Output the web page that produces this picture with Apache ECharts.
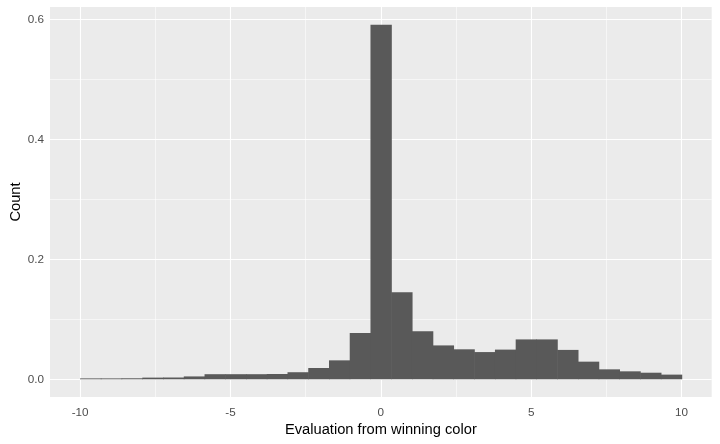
<!DOCTYPE html>
<html>
<head>
<meta charset="utf-8">
<script src="https://cdn.jsdelivr.net/npm/echarts@6/dist/echarts.min.js"></script>
<style>
    html, body { margin: 0; padding: 0; background: #fff; }
    #histChart { width: 720px; height: 444px; }
</style>
</head>
<body>
<div id="histChart"></div>
<script>
    // histogram bins: 29 bins of equal width covering -10..10
    const binStart = -10;
    const binWidth = 20 / 29;
    const density = [
        0.0015, 0.0015, 0.0017, 0.0028, 0.003, 0.0048, 0.0085, 0.0085, 0.0085, 0.0088,
        0.0118, 0.0188, 0.0316, 0.077, 0.591, 0.145, 0.080, 0.0565, 0.050, 0.0454,
        0.0495, 0.0665, 0.0665, 0.049, 0.0294, 0.0166, 0.0133, 0.011, 0.0078
    ];
    const xTicks = [-10, -5, 0, 5, 10];
    const xMinor = [-7.5, -2.5, 2.5, 7.5];
    const yTicks = [0, 0.2, 0.4, 0.6];
    const yMinor = [0.1, 0.3, 0.5];

    const barData = density.map((d, i) => [binStart + i * binWidth, binStart + (i + 1) * binWidth, d]);

    const major = { color: '#ffffff', width: 1.1, type: 'solid' };
    const minor = { color: '#ffffff', width: 0.55, type: 'solid' };
    const gridLines = []
        .concat(xTicks.map(v => ({ xAxis: v, lineStyle: major })))
        .concat(xMinor.map(v => ({ xAxis: v, lineStyle: minor })))
        .concat(yTicks.map(v => ({ yAxis: v, lineStyle: major })))
        .concat(yMinor.map(v => ({ yAxis: v, lineStyle: minor })));

    const chart = echarts.init(document.getElementById('histChart'));
    const labelStyle = { color: '#4d4d4d', fontSize: 11.7, fontFamily: 'Liberation Sans, Arial, sans-serif' };

    chart.setOption({
        animation: false,
        grid: {
            left: 50, right: 8.3, top: 7, bottom: 47,
            outerBoundsMode: 'none',
            containLabel: false,
            show: true, backgroundColor: '#ebebeb', borderWidth: 0
        },
        xAxis: {
            type: 'value',
            min: -11, max: 11,
            name: 'Evaluation from winning color',
            nameLocation: 'middle',
            nameGap: 25,
            nameMoveOverlap: false,
            nameTextStyle: { color: '#000', fontSize: 14.7, fontFamily: 'Liberation Sans, Arial, sans-serif' },
            axisLine: { show: false },
            splitLine: { show: false },
            axisTick: { show: true, customValues: xTicks, length: 3, lineStyle: { color: '#333333', width: 1 } },
            axisLabel: Object.assign({ customValues: xTicks, margin: 10 }, labelStyle)
        },
        yAxis: {
            type: 'value',
            min: -0.0295, max: 0.6206,
            name: 'Count',
            nameLocation: 'middle',
            nameGap: 27,
            nameMoveOverlap: false,
            nameTextStyle: { color: '#000', fontSize: 14.7, fontFamily: 'Liberation Sans, Arial, sans-serif' },
            axisLine: { show: false },
            splitLine: { show: false },
            axisTick: { show: true, customValues: yTicks, length: 3, lineStyle: { color: '#333333', width: 1 } },
            axisLabel: Object.assign({ customValues: yTicks, margin: 6, formatter: v => v.toFixed(1) }, labelStyle)
        },
        series: [{
            type: 'custom',
            z: 10,
            data: barData,
            encode: { x: [0, 1], y: 2 },
            renderItem: function (params, api) {
                const p0 = api.coord([api.value(0), 0]);
                const p1 = api.coord([api.value(1), api.value(2)]);
                return {
                    type: 'rect',
                    shape: { x: p0[0], y: p1[1], width: p1[0] - p0[0] + 0.6, height: p0[1] - p1[1] },
                    style: { fill: '#595959' }
                };
            },
            markLine: {
                silent: true,
                z: 1,
                symbol: 'none',
                label: { show: false },
                data: gridLines
            }
        }]
    });
</script>
</body>
</html>
